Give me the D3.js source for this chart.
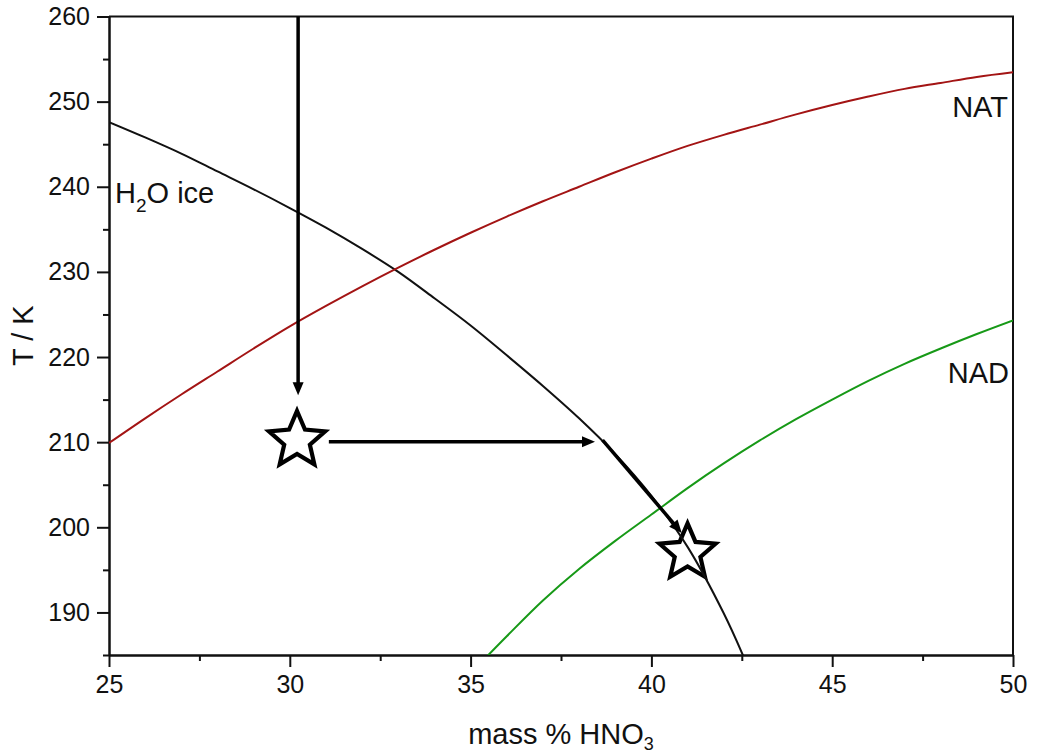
<!DOCTYPE html>
<html lang="en">
<head>
<meta charset="UTF-8">
<title>HNO3 / H2O phase diagram</title>
<script src="https://d3js.org/d3.v7.min.js"></script>
<style>
  body { margin: 0; background: #fff; font-family: "Liberation Sans", Arial, sans-serif; }
  .axis path, .axis line { stroke: #111; stroke-width: 2; }
  .axis text { font-size: 25px; fill: #111; font-family: "Liberation Sans", Arial, sans-serif; }
  .label { font-size: 29px; fill: #111; }
  .curve { fill: none; stroke-width: 2; }
</style>
</head>
<body>
<svg id="chart" width="1037" height="753"></svg>
<script>
// ticks
var xTicks = [25, 30, 35, 40, 45, 50];
var xMinor = [27.5, 32.5, 37.5, 42.5, 47.5];
var yTicks = [190, 200, 210, 220, 230, 240, 250, 260];
var yMinor = [185, 195, 205, 215, 225, 235, 245, 255];

// H2O ice curve
var iceX = [25, 26, 27, 28, 29, 30, 31, 32, 33, 34, 35, 36, 37, 38, 39, 40, 41, 42, 42.6];
var iceT = [247.6, 245.8, 243.9, 241.8, 239.7, 237.5, 235.2, 232.7, 230.0, 226.9, 223.7, 220.2, 216.6, 212.8, 208.6, 203.7, 197.7, 189.9, 184.3];

// NAT curve
var natX = [25, 26, 27, 28, 29, 30, 31, 32, 33, 34, 35, 36, 37, 38, 39, 40, 41, 42, 43, 44, 45, 46, 47, 48, 49, 50];
var natT = [209.9, 212.8, 215.6, 218.3, 221.0, 223.6, 226.0, 228.3, 230.5, 232.6, 234.6, 236.5, 238.3, 240.0, 241.7, 243.3, 244.8, 246.1, 247.3, 248.5, 249.6, 250.6, 251.5, 252.2, 252.9, 253.45];

// NAD curve
var nadX = [35.4, 36, 37, 38, 39, 40, 41, 42, 43, 44, 45, 46, 47, 48, 49, 50];
var nadT = [184.6, 187.2, 191.4, 195.1, 198.4, 201.5, 204.6, 207.5, 210.2, 212.7, 215.0, 217.2, 219.2, 221.0, 222.7, 224.3];

// stars and arrows
var starX = [30.2, 41.0];
var starT = [210.2, 197.0];
var arrowFrom = [[30.23, 260], [31.08, 210.05], [38.65, 210.25]];
var arrowTo = [[30.23, 215.5], [38.44, 210.05], [40.84, 199.33]];

var svg = d3.select("#chart");

var x = d3.scaleLinear().domain([25, 50]).range([109, 1013]);
var y = d3.scaleLinear().domain([185, 260]).range([655, 16.5]);

svg.append("clipPath").attr("id", "plot")
  .append("rect")
  .attr("x", x(25)).attr("y", y(260))
  .attr("width", x(50) - x(25)).attr("height", y(185) - y(260));

// frame (top and right)
svg.append("path")
  .attr("d", "M" + x(25) + "," + y(260) + "H" + x(50) + "V" + y(185))
  .attr("fill", "none").attr("stroke", "#111").attr("stroke-width", 2);

// axes
svg.append("g").attr("class", "axis")
  .attr("transform", "translate(0," + y(185) + ")")
  .call(d3.axisBottom(x).tickValues(xMinor).tickSize(6).tickSizeOuter(0).tickFormat(""));
svg.append("g").attr("class", "axis")
  .attr("transform", "translate(0," + y(185) + ")")
  .call(d3.axisBottom(x).tickValues(xTicks).tickSize(12).tickSizeOuter(0).tickPadding(8));
svg.append("g").attr("class", "axis")
  .attr("transform", "translate(" + x(25) + ",0)")
  .call(d3.axisLeft(y).tickValues(yMinor).tickSize(6).tickSizeOuter(0).tickFormat(""));
svg.append("g").attr("class", "axis")
  .attr("transform", "translate(" + x(25) + ",0)")
  .call(d3.axisLeft(y).tickValues(yTicks).tickSize(12).tickSizeOuter(0).tickPadding(7));

// stars
function starPath(cx, cy, R, r) {
  var pts = [];
  for (var i = 0; i < 10; i++) {
    var a = -Math.PI / 2 + i * Math.PI / 5;
    var rad = i % 2 === 0 ? R : r;
    pts.push([cx + rad * Math.cos(a), cy + rad * Math.sin(a)]);
  }
  return "M" + pts.join("L") + "Z";
}
svg.selectAll("path.star")
  .data(d3.range(starX.length))
  .enter().append("path")
  .attr("class", "star")
  .attr("d", function(i) { return starPath(x(starX[i]), y(starT[i]), 29.5, 13.5); })
  .attr("fill", "#fff").attr("stroke", "#000").attr("stroke-width", 4.2)
  .attr("stroke-linejoin", "miter");

// curves
var line = d3.line().curve(d3.curveCatmullRom)
  .x(function(d) { return x(d[0]); })
  .y(function(d) { return y(d[1]); });
var g = svg.append("g").attr("clip-path", "url(#plot)");
g.append("path").attr("class", "curve").attr("stroke", "#111")
  .attr("d", line(d3.zip(iceX, iceT)));
g.append("path").attr("class", "curve").attr("stroke", "#a31414")
  .attr("d", line(d3.zip(natX, natT)));
g.append("path").attr("class", "curve").attr("stroke", "#179917")
  .attr("d", line(d3.zip(nadX, nadT)));

// arrows
arrowFrom.forEach(function(p, i) {
  var x1 = x(p[0]), y1 = y(p[1]), x2 = x(arrowTo[i][0]), y2 = y(arrowTo[i][1]);
  var len = Math.hypot(x2 - x1, y2 - y1), dx = (x2 - x1) / len, dy = (y2 - y1) / len;
  var L = 13, W = 5.5;
  svg.append("line")
    .attr("x1", x1).attr("y1", y1)
    .attr("x2", x2 - dx * (L - 2)).attr("y2", y2 - dy * (L - 2))
    .attr("stroke", "#000").attr("stroke-width", 3.5);
  var bx = x2 - dx * L, by = y2 - dy * L;
  svg.append("path")
    .attr("d", "M" + x2 + "," + y2 + "L" + (bx - dy * W) + "," + (by + dx * W) +
      "L" + (bx + dy * W) + "," + (by - dx * W) + "Z")
    .attr("fill", "#000");
});

// labels
var ice = svg.append("text").attr("class", "label").attr("x", 115).attr("y", 203);
ice.append("tspan").text("H");
ice.append("tspan").attr("font-size", 19).attr("dy", 9).text("2");
ice.append("tspan").attr("dy", -9).text("O ice");

svg.append("text").attr("class", "label")
  .attr("x", 1008).attr("y", 116.5).attr("text-anchor", "end").text("NAT");
svg.append("text").attr("class", "label")
  .attr("x", 1009).attr("y", 383).attr("text-anchor", "end").text("NAD");

// axis titles
var xt = svg.append("text").attr("class", "label")
  .attr("x", (x(25) + x(50)) / 2).attr("y", 744).attr("text-anchor", "middle");
xt.append("tspan").text("mass % HNO");
xt.append("tspan").attr("font-size", 18).attr("dy", 6).text("3");

svg.append("text").attr("class", "label")
  .attr("transform", "translate(33," + (y(185) + y(260)) / 2 + ") rotate(-90)")
  .attr("text-anchor", "middle").text("T / K");
</script>
</body>
</html>
